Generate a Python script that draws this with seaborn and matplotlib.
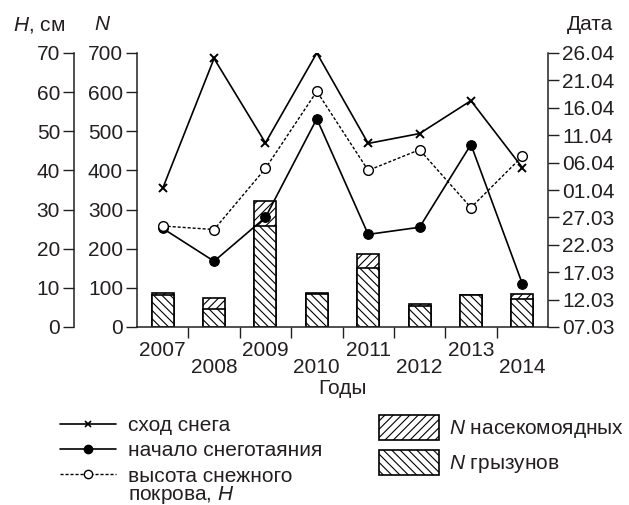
import numpy as np
import pandas as pd
import matplotlib
matplotlib.use("Agg")
import matplotlib.pyplot as plt
from matplotlib.lines import Line2D
from matplotlib.patches import Patch
import seaborn as sns

# Данные
years = ['2007', '2008', '2009', '2010', '2011', '2012', '2013', '2014']
n_rodents = [82, 45, 258, 84, 151, 54, 81, 72]
n_insectivores = [6, 28, 64, 3, 36, 6, 2, 12]
# даты в днях от 07.03
snow_off = [25.3, 49.0, 33.6, 50.0, 33.5, 35.3, 41.3, 29.1]
melt_start = [18.0, 12.0, 20.0, 38.0, 16.9, 18.2, 33.3, 7.9]
snow_depth = [25.8, 24.9, 40.5, 60.2, 40.0, 45.3, 30.5, 43.6]

date_labels = ['07.03', '12.03', '17.03', '22.03', '27.03', '01.04',
               '06.04', '11.04', '16.04', '21.04', '26.04']
n_ticks = [0, 100, 200, 300, 400, 500, 600, 700]
h_ticks = [0, 10, 20, 30, 40, 50, 60, 70]

text_color = '#231f20'

sns.set_style("ticks")
plt.rcParams['font.family'] = ['Liberation Sans', 'DejaVu Sans']
plt.rcParams['mathtext.fontset'] = 'custom'
plt.rcParams['mathtext.rm'] = 'Liberation Sans'
plt.rcParams['mathtext.it'] = 'Liberation Sans:italic'
plt.rcParams['hatch.linewidth'] = 0.8
plt.rcParams['text.color'] = text_color

fig = plt.figure(figsize=(6.29, 5.05), dpi=100)
ax = fig.add_axes([137 / 629, 178 / 505, 411 / 629, 274 / 505])

df = pd.DataFrame({'Год': years,
                   'Всего': np.array(n_rodents) + np.array(n_insectivores),
                   'Грызуны': n_rodents})

# Столбцы: сначала общая высота (насекомоядные), поверх - грызуны
sns.barplot(data=df, x='Год', y='Всего', color='white', edgecolor='black',
            hatch='////', width=0.43, linewidth=1.2, saturation=1, ax=ax)
sns.barplot(data=df, x='Год', y='Грызуны', color='white', edgecolor='black',
            hatch='\\\\\\\\', width=0.43, linewidth=1.2, saturation=1, ax=ax)

ax.set_xlim(-0.5, 7.5)
ax.set_ylim(0, 700)
ax.set_yticks(n_ticks)
ax.set_ylabel('')
ax.set_xlabel('Годы', fontsize=15, labelpad=2, color=text_color)

pos = np.arange(len(years))

# Ось дат справа
ax_date = ax.twinx()
ax_date.set_ylim(0, 50)
ax_date.set_yticks(np.arange(0, 51, 5))
ax_date.set_yticklabels(date_labels)
sns.lineplot(x=pos, y=snow_off, ax=ax_date, color='black', linewidth=1.2,
             marker='x', markersize=6, markeredgecolor='black',
             markeredgewidth=1.4)
sns.lineplot(x=pos, y=melt_start, ax=ax_date, color='black', linewidth=1.2,
             marker='o', markersize=7, markeredgecolor='black',
             markerfacecolor='black')

# Ось высоты снега слева (внешняя)
ax_h = ax.twinx()
ax_h.set_ylim(0, 70)
ax_h.set_yticks(h_ticks)
ax_h.yaxis.tick_left()
ax_h.spines['left'].set_position(('outward', 45.4))
sns.lineplot(x=pos, y=snow_depth, ax=ax_h, color='black', linewidth=1.0,
             linestyle=(0, (2.2, 1.4)), marker='o', markersize=7,
             markeredgecolor='black', markerfacecolor='white',
             markeredgewidth=1.0)

for a in (ax, ax_date, ax_h):
    for s in a.spines.values():
        s.set_visible(False)
        s.set_linewidth(1.1)
        s.set_color(text_color)
    a.set_ylabel('')
    a.tick_params(axis='y', length=8, width=1.0, colors=text_color,
                  labelsize=15, pad=2)
ax.spines['left'].set_visible(True)
ax.spines['bottom'].set_visible(True)
ax_date.spines['right'].set_visible(True)
ax_h.spines['left'].set_visible(True)

# Подписи годов в шахматном порядке, засечки между годами
ax.set_xticks(pos)
ax.set_xticklabels(years)
ax.set_xticks(pos[:-1] + 0.5, minor=True)
ax.tick_params(axis='x', which='major', length=0, labelsize=15,
               colors=text_color)
ax.tick_params(axis='x', which='minor', length=8, width=1.0,
               colors=text_color)
for i, t in enumerate(ax.xaxis.get_major_ticks()):
    t.set_pad(10 if i % 2 == 0 else 22)

# Заголовки осей
fig.text(13 / 629, 1 - 25 / 505, '$H$, см', ha='left', va='center', fontsize=15)
fig.text(103 / 629, 1 - 25 / 505, '$N$', ha='center', va='center', fontsize=15)
fig.text(590 / 629, 1 - 25 / 505, 'Дата', ha='center', va='center', fontsize=15)

# Легенды
line_handles = [
    Line2D([], [], color='black', linewidth=1.2, marker='x', markersize=5,
           markeredgewidth=1.2),
    Line2D([], [], color='black', linewidth=1.2, marker='o', markersize=6),
    Line2D([], [], color='black', linewidth=1.0, linestyle=(0, (2.2, 1.4)),
           marker='o', markersize=6, markerfacecolor='white'),
]
line_labels = ['сход снега', 'начало снеготаяния', 'высота снежного']
fig.legend(line_handles, line_labels, loc='upper left',
           bbox_to_anchor=(60 / 629, 1 - 416 / 505), frameon=False,
           fontsize=15, handlelength=2.7, handletextpad=0.55,
           borderpad=0, borderaxespad=0, labelspacing=0.3)
fig.text(128 / 629, 1 - 495 / 505, 'покрова, $H$', ha='left', va='center',
         fontsize=15)

patch_handles = [
    Patch(facecolor='white', edgecolor='black', hatch='////', linewidth=1.2),
    Patch(facecolor='white', edgecolor='black', hatch='\\\\\\\\', linewidth=1.2),
]
patch_labels = ['$N$ насекомоядных', '$N$ грызунов']
fig.legend(patch_handles, patch_labels, loc='upper left',
           bbox_to_anchor=(379 / 629, 1 - 415 / 505), frameon=False,
           fontsize=15, handlelength=2.9, handleheight=1.44,
           handletextpad=0.48, borderpad=0, borderaxespad=0,
           labelspacing=0.48)

fig.savefig('out.png', dpi=100, facecolor='white')
